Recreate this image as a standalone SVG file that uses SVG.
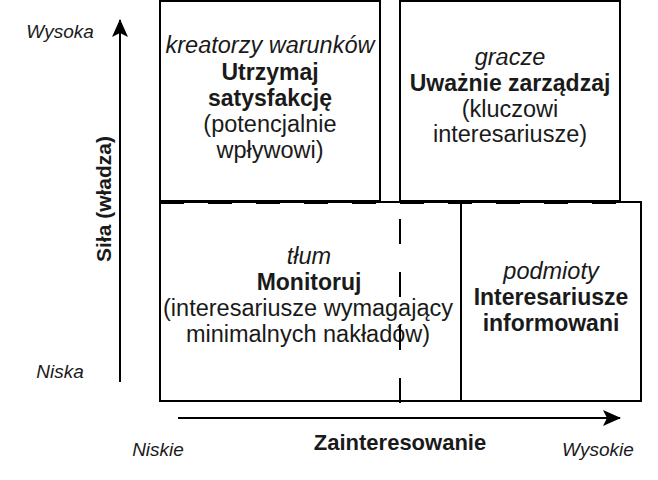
<svg xmlns="http://www.w3.org/2000/svg" width="658" height="480" viewBox="0 0 658 480">
<defs>
<style>
.box{fill:#fff;stroke:#000;stroke-width:2}
.dash{fill:none;stroke:#000;stroke-width:2}
.t{font-family:"Liberation Sans",Arial,sans-serif;font-size:23.5px;fill:#1a1a1a;text-anchor:middle}
.i{font-style:italic}
.b{font-weight:bold;font-size:23px}
.ax{font-family:"Liberation Sans",Arial,sans-serif;font-size:19px;font-style:italic;fill:#1a1a1a;text-anchor:middle}
.axis{stroke:#000;stroke-width:2;fill:none}
</style>
<marker id="arr" viewBox="0 0 18 16" refX="17" refY="8" markerWidth="18" markerHeight="16" markerUnits="userSpaceOnUse" orient="auto">
<path d="M0,0 L18,8 L0,16 L4,8 Z" fill="#000"/>
</marker>
</defs>
<rect width="658" height="480" fill="#fff"/>

<g id="kreatorzy">
<rect class="box" x="160" y="1" width="220" height="200"/>
<text class="t i" x="270" y="53">kreatorzy warunków</text>
<text class="t b" x="270" y="80">Utrzymaj</text>
<text class="t b" x="270" y="106">satysfakcję</text>
<text class="t" x="270" y="132">(potencjalnie</text>
<text class="t" x="270" y="158">wpływowi)</text>
</g>

<g id="gracze">
<rect class="box" x="400" y="1" width="220" height="200"/>
<text class="t i" x="510" y="65">gracze</text>
<text class="t b" x="510" y="91">Uważnie zarządzaj</text>
<text class="t" x="510" y="117">(kluczowi</text>
<text class="t" x="510" y="142">interesariusze)</text>
</g>

<g id="tlum">
<rect class="box" x="160" y="202" width="301" height="199"/>
<text class="t i" x="309" y="264">tłum</text>
<text class="t b" x="309" y="290">Monitoruj</text>
<text class="t" x="308" y="316">(interesariusze wymagający</text>
<text class="t" x="308" y="342">minimalnych nakładów)</text>
</g>

<g id="podmioty">
<rect class="box" x="461" y="202" width="180" height="199"/>
<text class="t i" x="551" y="279">podmioty</text>
<text class="t b" x="551" y="305">Interesariusze</text>
<text class="t b" x="551" y="331">informowani</text>
</g>

<g id="connectors">
<line class="dash" x1="160" y1="203" x2="641" y2="203" stroke-dasharray="24 24"/>
<line class="dash" x1="400" y1="403" x2="400" y2="202" stroke-dasharray="25 28"/>
<line class="axis" x1="120" y1="382" x2="120" y2="20" marker-end="url(#arr)"/>
<line class="axis" x1="178" y1="418" x2="620" y2="418" marker-end="url(#arr)"/>
</g>

<g id="labels">
<text class="ax" x="60" y="38">Wysoka</text>
<text class="ax" x="60" y="378">Niska</text>
<text class="t b" transform="translate(111,199) rotate(-90)" x="0" y="0" style="font-size:21px">Siła (władza)</text>
<text class="ax" x="158" y="456">Niskie</text>
<text class="t b" x="400" y="450" style="font-size:22px">Zainteresowanie</text>
<text class="ax" x="598" y="456">Wysokie</text>
</g>
</svg>
